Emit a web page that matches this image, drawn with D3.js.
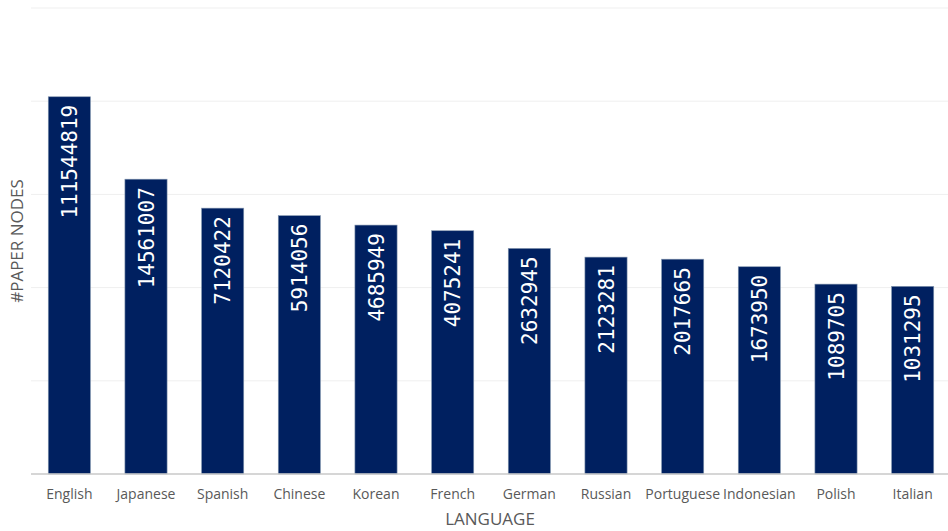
<!DOCTYPE html>
<html lang="en">
<head>
  <meta charset="UTF-8">
  <title>Paper nodes by language</title>
  <script src="https://d3js.org/d3.v7.min.js"></script>
  <style>
    body { margin: 0; background: #fff; }
    .tick-label { font-family: "Open Sans", sans-serif; font-size: 14px; fill: #595959; }
    .axis-title { font-family: "Open Sans", sans-serif; font-size: 17px; fill: #595959; }
    .bar-label { font-family: "DejaVu Sans Mono", monospace; font-size: 21px; fill: #fff; }
  </style>
</head>
<body>
  <div id="chart"></div>
  <script>
    // data
    var languages = ["English", "Japanese", "Spanish", "Chinese", "Korean", "French",
      "German", "Russian", "Portuguese", "Indonesian", "Polish", "Italian"];
    var paperNodes = [111544819, 14561007, 7120422, 5914056, 4685949, 4075241,
      2632945, 2123281, 2017665, 1673950, 1089705, 1031295];
    var gridValues = [1e4, 1e5, 1e6, 1e7, 1e8, 1e9];

    var width = 948, height = 531;
    var margin = {top: 8, right: -3, bottom: 57, left: 31};

    var svg = d3.select("#chart")
      .append("svg")
      .attr("width", width)
      .attr("height", height);

    var x = d3.scaleBand()
      .domain(languages)
      .range([margin.left, width - margin.right])
      .paddingInner(0.45)
      .paddingOuter(0.225);

    var y = d3.scaleLog()
      .domain([1e4, 1e9])
      .range([height - margin.bottom, margin.top]);

    // gridlines
    svg.append("g")
      .selectAll("line")
      .data(gridValues.slice(1))
      .enter()
      .append("line")
      .attr("x1", margin.left)
      .attr("x2", width)
      .attr("y1", function(d) { return y(d); })
      .attr("y2", function(d) { return y(d); })
      .attr("stroke", "#efefef")
      .attr("stroke-width", 1);

    var data = languages.map(function(l, i) { return {lang: l, value: paperNodes[i]}; });

    // bars
    svg.append("g")
      .selectAll("rect")
      .data(data)
      .enter()
      .append("rect")
      .attr("x", function(d) { return x(d.lang); })
      .attr("y", function(d) { return y(d.value); })
      .attr("width", x.bandwidth())
      .attr("height", function(d) { return y(1e4) - y(d.value); })
      .attr("fill", "#002060")
      .attr("stroke", "#8497b0")
      .attr("stroke-width", 0.6);

    // value labels inside the bars
    svg.append("g")
      .selectAll("text")
      .data(data)
      .enter()
      .append("text")
      .attr("class", "bar-label")
      .attr("text-anchor", "end")
      .attr("transform", function(d) {
        return "translate(" + (x(d.lang) + x.bandwidth() / 2 + 7.5) + "," + (y(d.value) + 8) + ") rotate(-90)";
      })
      .text(function(d) { return d.value; });

    // x axis
    var xAxis = svg.append("g")
      .attr("transform", "translate(0," + y(1e4) + ")")
      .call(d3.axisBottom(x).tickSize(0).tickPadding(15));
    xAxis.select(".domain").attr("stroke", "#c8c8c8").attr("stroke-width", 1.5)
      .attr("d", "M" + margin.left + ",0H" + width);
    xAxis.selectAll("text").attr("class", "tick-label").attr("fill", null).attr("font-family", null).attr("font-size", null);

    // axis titles
    svg.append("text")
      .attr("class", "axis-title")
      .attr("text-anchor", "middle")
      .attr("x", 490)
      .attr("y", 525)
      .text("LANGUAGE");

    svg.append("text")
      .attr("class", "axis-title")
      .attr("text-anchor", "middle")
      .attr("transform", "translate(23,241) rotate(-90)")
      .text("#PAPER NODES");
  </script>
</body>
</html>
